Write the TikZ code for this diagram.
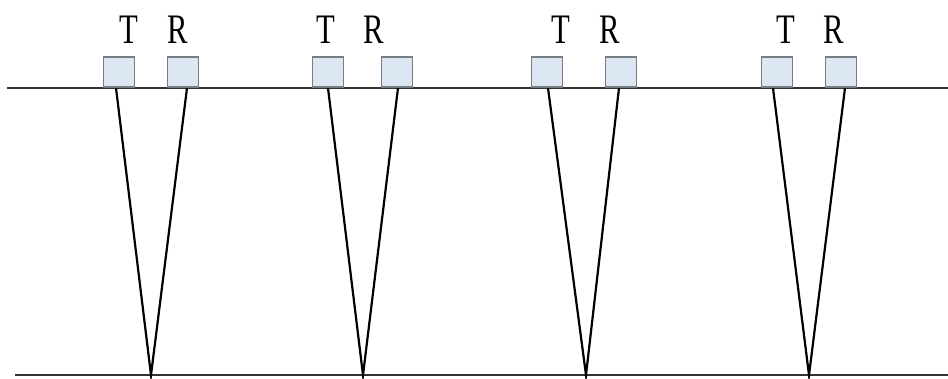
\documentclass[tikz,border=0pt]{standalone}
\usepackage{fontspec}
\setmainfont{Liberation Serif}
\definecolor{boxfill}{RGB}{221,231,243}
\definecolor{boxline}{RGB}{120,125,132}
\begin{document}
\begin{tikzpicture}[x=1pt,y=-1pt,
  ground/.style={draw=black!80,line width=2.4pt},
  ray/.style={draw=black,line width=2.2pt},
  sensor/.style={draw=boxline,fill=boxfill,line width=1.6pt,minimum width=31pt,minimum height=30pt,inner sep=0pt,anchor=south},
  lbl/.style={inner sep=0pt,anchor=base,font=\fontsize{42}{42}\selectfont}]
\useasboundingbox (0,0) rectangle (948,378);
\coordinate (gtl) at (7,88);
\coordinate (gtr) at (948,88);
\coordinate (gbl) at (15,375);
\coordinate (gbr) at (948,375);
\draw[ground] (gtl) -- (gtr);
\draw[ground] (gbl) -- (gbr);
\foreach \i/\tb/\rb/\ts/\rs/\vx/\tx/\rx in {1/119/183/116/187/151/128.5/178,2/328/397/328/398/363/326/374,3/547/621/548/619/586/561/610,4/777/841/773/845/809/786/834}{
  \node[sensor] (T\i) at (\tb,88) {};
  \node[sensor] (R\i) at (\rb,88) {};
  \coordinate (ts\i) at (\ts,88);
  \coordinate (rs\i) at (\rs,88);
  \coordinate (v\i) at (\vx,375);
  \draw[ray] (ts\i) -- (v\i) -- (rs\i);
  \node[lbl] (lt\i) at (\tx,43) {\scalebox{0.73}[1]{T}};
  \node[lbl] (lr\i) at (\rx,43) {\scalebox{0.73}[1]{R}};
}
\end{tikzpicture}
\end{document}
